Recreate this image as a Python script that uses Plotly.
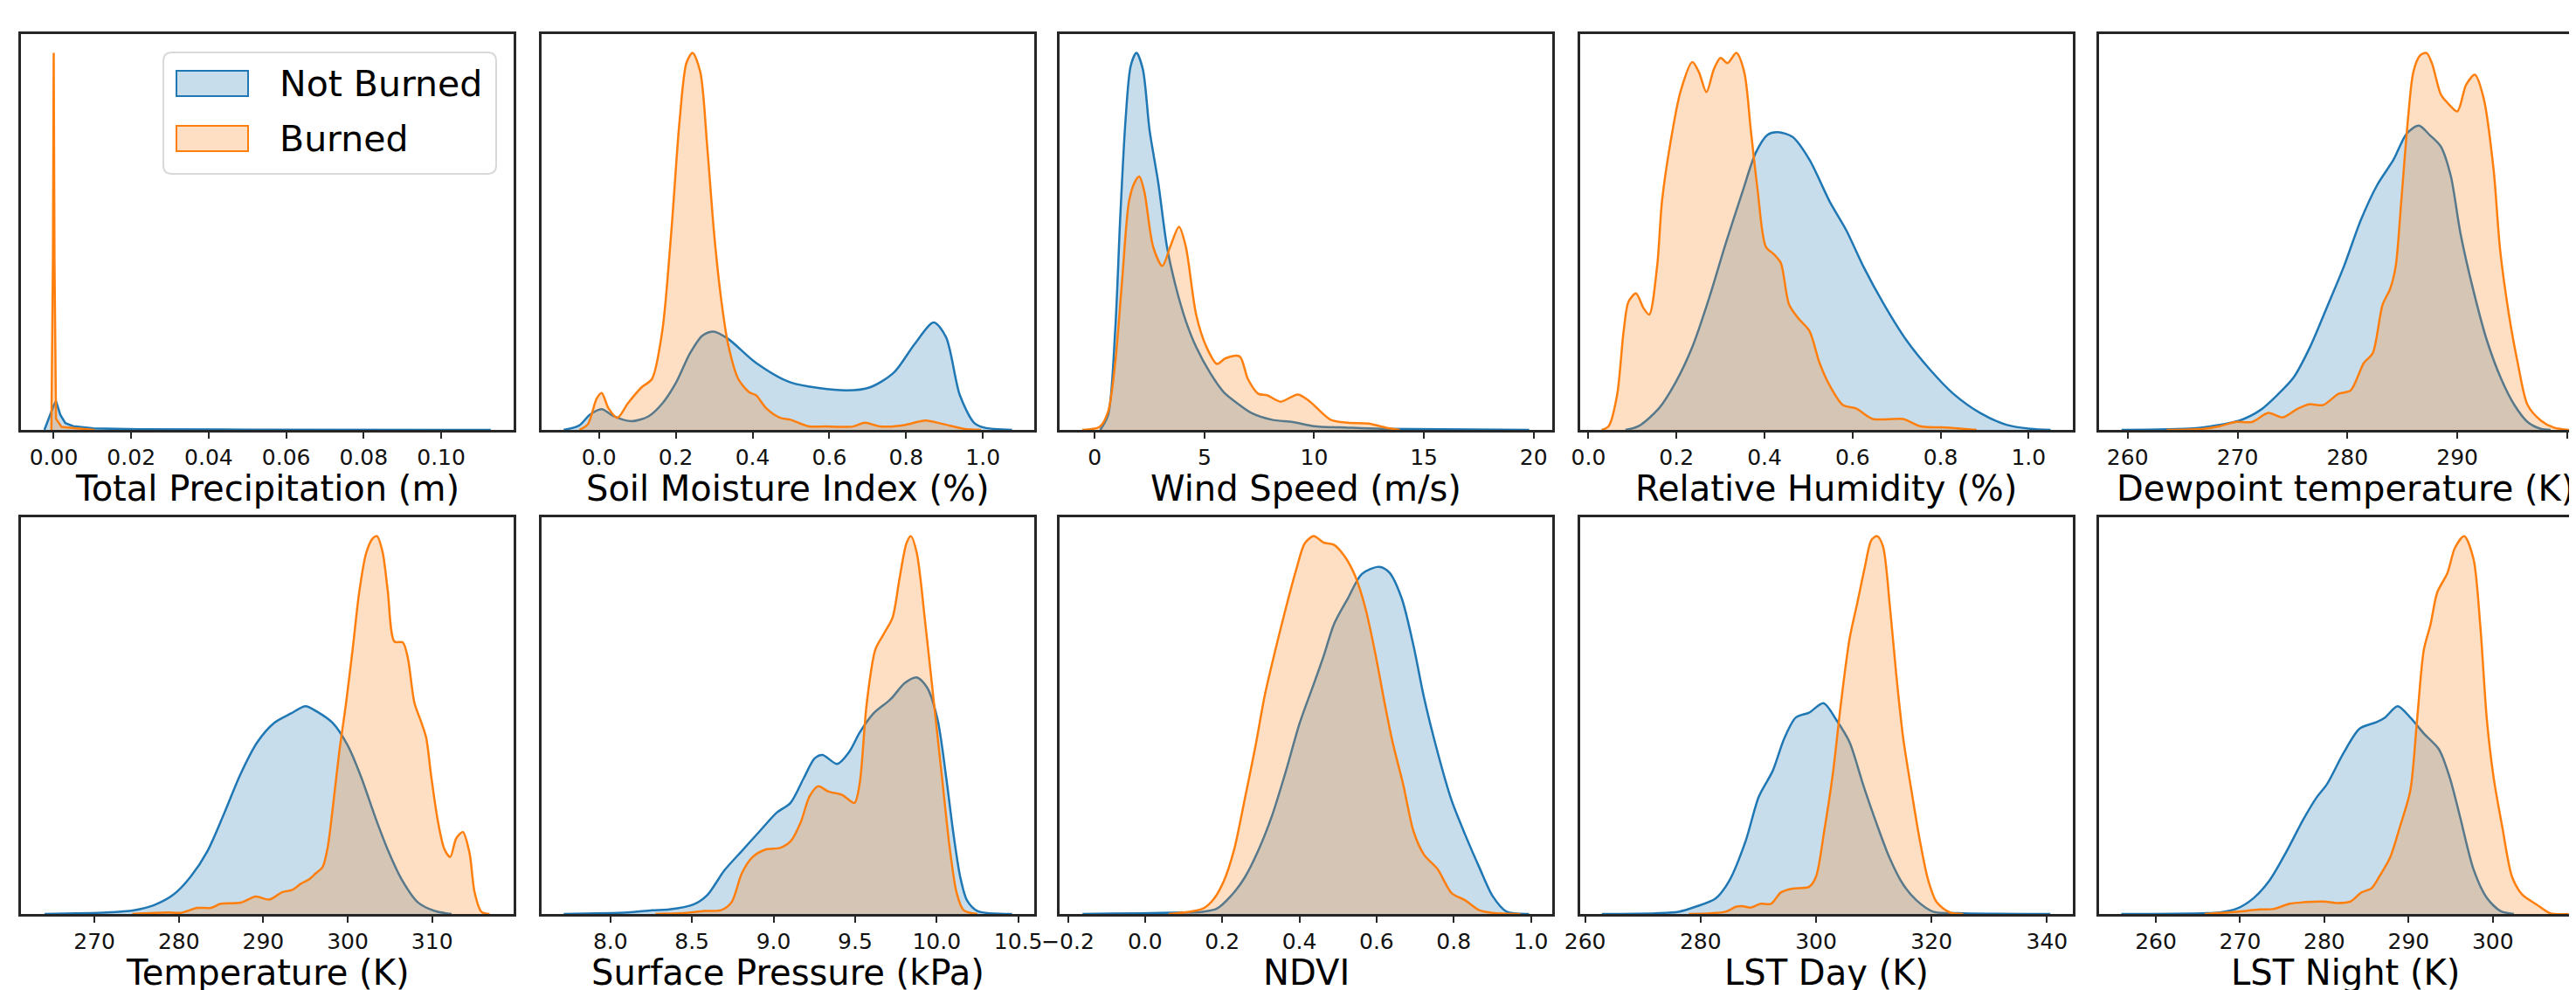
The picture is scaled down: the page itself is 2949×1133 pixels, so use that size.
import plotly.graph_objects as go

W, H = 2949, 1133

# ---------------- data (relative density) ----------------
precip_nb_x = [-0.0024, -0.0013, 0.0, 0.0006, 0.0017, 0.003, 0.005, 0.0103, 0.022, 0.05, 0.08, 0.1128]
precip_nb_y = [0, 0.03, 0.065, 0.076, 0.04, 0.018, 0.01, 0.004, 0.0015, 0.0008, 0.0005, 0]
precip_b_x = [-0.0006, -0.0002, 0.0, 0.0002, 0.0006, 0.002, 0.006, 0.0105]
precip_b_y = [0, 0.45, 1.0, 0.45, 0.03, 0.008, 0.004, 0]

soil_nb_x = [-0.092, -0.051, -0.024, 0.007, 0.039, 0.084, 0.129, 0.165, 0.201, 0.237, 0.269, 0.298, 0.336,
             0.409, 0.499, 0.643, 0.706, 0.768, 0.823, 0.872, 0.904, 0.940, 0.977, 1.004, 1.076]
soil_nb_y = [0, 0.012, 0.040, 0.055, 0.036, 0.023, 0.036, 0.070, 0.126, 0.203, 0.250, 0.261, 0.242,
             0.178, 0.126, 0.105, 0.113, 0.152, 0.229, 0.285, 0.246, 0.092, 0.019, 0.006, 0]
soil_b_x = [-0.051, -0.029, -0.006, 0.007, 0.025, 0.048, 0.075, 0.111, 0.138, 0.165, 0.188, 0.210, 0.228,
            0.244, 0.264, 0.282, 0.300, 0.318, 0.336, 0.363, 0.391, 0.409, 0.436, 0.472, 0.499, 0.544,
            0.589, 0.661, 0.693, 0.733, 0.796, 0.850, 0.895, 0.950, 0.995]
soil_b_y = [0, 0.015, 0.083, 0.098, 0.057, 0.032, 0.070, 0.113, 0.135, 0.263, 0.520, 0.820, 0.974,
            1.0, 0.949, 0.751, 0.520, 0.349, 0.229, 0.135, 0.100, 0.092, 0.057, 0.032, 0.027, 0.010,
            0.009, 0.009, 0.019, 0.009, 0.013, 0.025, 0.016, 0.003, 0]

wind_nb_x = [0.25, 0.61, 0.93, 1.16, 1.40, 1.64, 1.90, 2.19, 2.50, 2.89, 3.29, 3.68, 4.15, 4.62, 5.25,
             5.88, 6.51, 7.14, 8.08, 9.03, 9.97, 11.54, 13.1, 19.8]
wind_nb_y = [0, 0.040, 0.263, 0.563, 0.820, 0.966, 1.0, 0.957, 0.794, 0.657, 0.486, 0.383, 0.289, 0.220,
             0.152, 0.100, 0.070, 0.045, 0.027, 0.021, 0.010, 0.006, 0.003, 0]
wind_b_x = [-0.57, 0.22, 0.61, 0.93, 1.24, 1.56, 1.82, 2.03, 2.26, 2.66, 3.08, 3.44, 3.84, 4.15, 4.62,
            5.09, 5.57, 5.96, 6.60, 6.98, 7.45, 7.85, 8.47, 9.26, 9.81, 10.75, 11.54, 12.48, 13.27, 13.9]
wind_b_y = [0, 0.008, 0.049, 0.177, 0.392, 0.606, 0.657, 0.672, 0.632, 0.486, 0.435, 0.486, 0.539, 0.486,
            0.306, 0.220, 0.175, 0.190, 0.195, 0.135, 0.096, 0.092, 0.075, 0.094, 0.075, 0.027, 0.019,
            0.017, 0.006, 0]

rh_nb_x = [0.084, 0.114, 0.160, 0.198, 0.236, 0.274, 0.312, 0.350, 0.380, 0.407, 0.430, 0.464, 0.502,
           0.548, 0.586, 0.624, 0.670, 0.723, 0.776, 0.829, 0.890, 0.951, 1.004, 1.05]
rh_nb_y = [0, 0.010, 0.057, 0.126, 0.220, 0.349, 0.495, 0.632, 0.735, 0.783, 0.790, 0.777, 0.717,
           0.606, 0.529, 0.435, 0.336, 0.237, 0.160, 0.096, 0.045, 0.013, 0.003, 0]
rh_b_x = [0.030, 0.046, 0.065, 0.080, 0.091, 0.108, 0.125, 0.138, 0.156, 0.167, 0.186, 0.209, 0.236,
          0.251, 0.268, 0.285, 0.300, 0.316, 0.336, 0.354, 0.369, 0.384, 0.403, 0.422, 0.437, 0.456,
          0.479, 0.502, 0.525, 0.548, 0.578, 0.608, 0.646, 0.715, 0.753, 0.821, 0.882]
rh_b_y = [0, 0.010, 0.092, 0.263, 0.340, 0.362, 0.323, 0.306, 0.434, 0.606, 0.760, 0.897, 0.976,
          0.949, 0.896, 0.957, 0.987, 0.973, 1.0, 0.949, 0.794, 0.640, 0.486, 0.465, 0.443, 0.332,
          0.293, 0.263, 0.178, 0.118, 0.066, 0.057, 0.029, 0.029, 0.010, 0.006, 0]

dew_nb_x = [259.45, 266.0, 268.1, 270.2, 272.1, 273.6, 275.1, 276.6, 278.1, 279.7, 281.2, 282.7, 284.2,
            285.4, 286.5, 287.5, 288.5, 289.4, 290.3, 291.5, 292.7, 294.0, 295.2, 296.4, 297.6, 298.5]
dew_nb_y = [0, 0.004, 0.012, 0.025, 0.053, 0.092, 0.139, 0.220, 0.323, 0.435, 0.555, 0.649, 0.717,
            0.786, 0.807, 0.782, 0.752, 0.675, 0.520, 0.366, 0.237, 0.135, 0.066, 0.021, 0.003, 0]
dew_b_x = [263.56, 266.9, 268.4, 269.8, 271.3, 272.8, 274.1, 275.4, 276.5, 277.8, 279.2, 280.3, 281.5,
           282.3, 283.2, 283.9, 284.4, 284.9, 285.5, 286.0, 286.6, 287.2, 287.7, 288.5, 289.1, 290.0,
           290.8, 291.6, 292.4, 293.3, 293.9, 294.7, 295.5, 296.4, 297.6, 298.8, 300.2]
dew_b_y = [0, 0.003, 0.010, 0.021, 0.021, 0.045, 0.033, 0.055, 0.068, 0.066, 0.096, 0.105, 0.178,
           0.203, 0.332, 0.375, 0.435, 0.606, 0.820, 0.949, 0.993, 1.0, 0.972, 0.890, 0.868, 0.845,
           0.915, 0.942, 0.880, 0.692, 0.477, 0.306, 0.178, 0.066, 0.025, 0.006, 0]

temp_nb_x = [264.1, 271.5, 274.7, 277.0, 279.4, 281.4, 283.4, 285.4, 287.3, 289.3, 291.3, 293.3, 295.0,
             296.4, 298.2, 300.0, 301.6, 303.2, 304.8, 306.4, 308.3, 310.3, 312.3]
temp_nb_y = [0, 0.004, 0.010, 0.023, 0.052, 0.099, 0.167, 0.268, 0.370, 0.455, 0.506, 0.531, 0.550,
             0.535, 0.506, 0.446, 0.362, 0.260, 0.167, 0.091, 0.031, 0.008, 0]
temp_b_x = [274.47, 278.63, 280.21, 282.19, 283.77, 284.96, 287.33, 289.11, 290.69, 292.27, 293.46,
            294.45, 295.44, 296.23, 297.02, 297.62, 298.21, 299.0, 299.79, 300.58, 301.37, 302.17,
            302.96, 303.47, 304.14, 304.74, 305.53, 306.52, 307.11, 307.90, 308.69, 309.29, 309.88,
            310.67, 311.46, 312.14, 312.85, 313.64, 314.43, 315.02, 315.82, 316.80]
temp_b_y = [0, 0.004, 0.003, 0.016, 0.016, 0.027, 0.030, 0.046, 0.038, 0.058, 0.064, 0.080, 0.092,
            0.108, 0.124, 0.175, 0.277, 0.429, 0.556, 0.700, 0.853, 0.954, 0.994, 1.0, 0.957, 0.856,
            0.721, 0.719, 0.679, 0.559, 0.509, 0.467, 0.366, 0.247, 0.171, 0.151, 0.200, 0.217,
            0.161, 0.058, 0.006, 0]

press_nb_x = [7.714, 8.106, 8.255, 8.361, 8.509, 8.594, 8.700, 8.806, 8.913, 9.019, 9.104, 9.188,
              9.252, 9.301, 9.390, 9.464, 9.528, 9.613, 9.719, 9.804, 9.878, 9.942, 10.006, 10.059,
              10.101, 10.144, 10.186, 10.250, 10.462]
press_nb_y = [0, 0.004, 0.010, 0.012, 0.025, 0.050, 0.116, 0.167, 0.218, 0.268, 0.294, 0.362,
              0.412, 0.421, 0.397, 0.429, 0.480, 0.531, 0.569, 0.611, 0.626, 0.599, 0.514, 0.360,
              0.218, 0.099, 0.036, 0.008, 0]
press_b_x = [8.276, 8.467, 8.573, 8.679, 8.743, 8.806, 8.870, 8.955, 9.040, 9.104, 9.167, 9.220,
             9.273, 9.337, 9.422, 9.496, 9.528, 9.571, 9.624, 9.677, 9.730, 9.772, 9.815, 9.842,
             9.878, 9.931, 9.984, 10.037, 10.080, 10.122, 10.165, 10.25]
press_b_y = [0, 0.003, 0.008, 0.010, 0.031, 0.108, 0.150, 0.171, 0.175, 0.192, 0.243, 0.311,
             0.338, 0.324, 0.315, 0.294, 0.345, 0.556, 0.700, 0.742, 0.785, 0.887, 0.981, 1.0,
             0.956, 0.767, 0.556, 0.345, 0.175, 0.057, 0.010, 0]

ndvi_nb_x = [-0.162, -0.011, 0.106, 0.150, 0.186, 0.222, 0.258, 0.293, 0.329, 0.365, 0.401, 0.437,
             0.463, 0.490, 0.526, 0.562, 0.607, 0.633, 0.665, 0.696, 0.723, 0.758, 0.794, 0.830,
             0.866, 0.901, 0.937, 0.995]
ndvi_nb_y = [0, 0.002, 0.004, 0.006, 0.014, 0.047, 0.096, 0.167, 0.260, 0.378, 0.506, 0.608,
             0.683, 0.768, 0.836, 0.900, 0.919, 0.904, 0.836, 0.709, 0.573, 0.429, 0.302, 0.209,
             0.124, 0.047, 0.006, 0]
ndvi_b_x = [0.061, 0.115, 0.150, 0.177, 0.204, 0.231, 0.258, 0.285, 0.311, 0.338, 0.365, 0.392,
            0.414, 0.437, 0.463, 0.490, 0.517, 0.544, 0.571, 0.598, 0.620, 0.642, 0.669, 0.696,
            0.723, 0.758, 0.794, 0.830, 0.866, 0.901, 0.973]
ndvi_b_y = [0, 0.006, 0.014, 0.038, 0.087, 0.171, 0.302, 0.438, 0.582, 0.700, 0.810, 0.912,
            0.981, 1.0, 0.983, 0.977, 0.947, 0.896, 0.810, 0.683, 0.563, 0.453, 0.343, 0.218,
            0.157, 0.119, 0.056, 0.036, 0.010, 0.003, 0]

lstd_nb_x = [262.9, 272.2, 276.2, 279.1, 282.6, 285.0, 287.8, 290.1, 292.5, 294.5, 296.5, 298.8,
             301.3, 303.5, 305.8, 308.1, 310.4, 312.7, 315.1, 317.4, 320.3, 325.5, 340.6]
lstd_nb_y = [0, 0.002, 0.006, 0.019, 0.041, 0.089, 0.193, 0.311, 0.379, 0.465, 0.520, 0.533,
             0.558, 0.514, 0.455, 0.345, 0.243, 0.150, 0.078, 0.036, 0.006, 0.002, 0]
lstd_b_x = [277.97, 284.3, 286.1, 287.2, 288.7, 290.4, 292.2, 293.9, 295.9, 298.8, 300.0, 301.4,
            302.9, 304.3, 305.8, 307.2, 308.4, 309.6, 310.6, 311.6, 312.8, 313.9, 315.1, 316.5,
            318.0, 319.4, 320.9, 323.2, 325.5]
lstd_b_y = [0, 0.006, 0.019, 0.021, 0.017, 0.027, 0.027, 0.057, 0.067, 0.072, 0.099, 0.218,
            0.370, 0.556, 0.728, 0.827, 0.914, 0.990, 1.0, 0.973, 0.813, 0.633, 0.465, 0.329,
            0.193, 0.091, 0.031, 0.004, 0]

lstn_nb_x = [255.9, 265.6, 267.6, 269.6, 271.6, 273.5, 275.5, 277.5, 279.1, 280.3, 282.3, 284.2,
             286.2, 287.2, 288.7, 290.2, 291.8, 293.6, 294.9, 296.1, 297.7, 299.3, 300.9, 302.5]
lstn_nb_y = [0, 0.002, 0.004, 0.014, 0.042, 0.089, 0.165, 0.250, 0.309, 0.343, 0.427, 0.491,
             0.508, 0.520, 0.550, 0.520, 0.478, 0.436, 0.360, 0.258, 0.119, 0.042, 0.008, 0]
lstn_b_x = [265.8, 269.6, 272.4, 273.9, 275.9, 277.5, 279.9, 281.5, 283.1, 284.4, 285.6, 286.6,
            287.8, 289.0, 290.2, 291.0, 291.8, 292.6, 293.4, 294.6, 295.5, 296.6, 297.7, 298.5,
            299.3, 300.1, 301.1, 302.3, 303.5, 305.2, 306.8, 309.0]
lstn_b_y = [0, 0.006, 0.012, 0.013, 0.027, 0.031, 0.033, 0.029, 0.033, 0.057, 0.068, 0.102,
            0.149, 0.233, 0.326, 0.512, 0.698, 0.766, 0.851, 0.902, 0.969, 1.0, 0.940, 0.766,
            0.512, 0.360, 0.233, 0.097, 0.051, 0.025, 0.002, 0]

titles = ["Total Precipitation (m)", "Soil Moisture Index (%)", "Wind Speed (m/s)",
          "Relative Humidity (%)", "Dewpoint temperature (K)", "Temperature (K)",
          "Surface Pressure (kPa)", "NDVI", "LST Day (K)", "LST Night (K)"]
tickvals = [[0.0, 0.02, 0.04, 0.06, 0.08, 0.10], [0.0, 0.2, 0.4, 0.6, 0.8, 1.0], [0, 5, 10, 15, 20],
            [0.0, 0.2, 0.4, 0.6, 0.8, 1.0], [260, 270, 280, 290, 300], [270, 280, 290, 300, 310],
            [8.0, 8.5, 9.0, 9.5, 10.0, 10.5], [-0.2, 0.0, 0.2, 0.4, 0.6, 0.8, 1.0],
            [260, 280, 300, 320, 340], [260, 270, 280, 290, 300, 310]]
tickformats = [".2f", ".1f", "d", ".1f", "d", "d", ".1f", ".1f", "d", "d"]
xranges = [[-0.00845, 0.1187], [-0.1506, 1.1326], [-1.604, 20.85], [-0.0198, 1.0996],
           [257.40, 301.44], [261.30, 319.65], [7.5756, 10.5955], [-0.2215, 1.0553],
           [259.07, 344.41], [253.26, 310.70]]

series = [
    (precip_nb_x, precip_nb_y, precip_b_x, precip_b_y),
    (soil_nb_x, soil_nb_y, soil_b_x, soil_b_y),
    (wind_nb_x, wind_nb_y, wind_b_x, wind_b_y),
    (rh_nb_x, rh_nb_y, rh_b_x, rh_b_y),
    (dew_nb_x, dew_nb_y, dew_b_x, dew_b_y),
    (temp_nb_x, temp_nb_y, temp_b_x, temp_b_y),
    (press_nb_x, press_nb_y, press_b_x, press_b_y),
    (ndvi_nb_x, ndvi_nb_y, ndvi_b_x, ndvi_b_y),
    (lstd_nb_x, lstd_nb_y, lstd_b_x, lstd_b_y),
    (lstn_nb_x, lstn_nb_y, lstn_b_x, lstn_b_y),
]

# ---------------- style ----------------
BLUE, ORANGE = "#1f77b4", "#ff7f0e"
BLUE_F, ORANGE_F = "rgba(31,119,180,0.25)", "rgba(255,127,14,0.25)"
FONT = "DejaVu Sans"
SPINE = "#262626"

lefts = [16, 611.5, 1205, 1800.5, 2395]
panel_w = 564
rows = [(31, 484), (584, 1038)]


def px(x):
    return x / W


def py(y):
    return 1 - y / H


fig = go.Figure()
layout = dict(width=W, height=H, margin=dict(l=0, r=0, t=0, b=0),
              paper_bgcolor="white", plot_bgcolor="white", showlegend=False,
              font=dict(family=FONT, color="black"))

for k in range(10):
    r, c = divmod(k, 5)
    n = k + 1
    xa = "x" if n == 1 else f"x{n}"
    ya = "y" if n == 1 else f"y{n}"
    nbx, nby, bx, by = series[k]
    shape = "linear" if k == 0 else "spline"
    fig.add_trace(go.Scatter(x=nbx, y=nby, xaxis=xa, yaxis=ya, name="Not Burned",
                             mode="lines", line=dict(color=BLUE, width=2.5, shape=shape, smoothing=0.8),
                             fill="tozeroy", fillcolor=BLUE_F, showlegend=False, hoverinfo="skip"))
    fig.add_trace(go.Scatter(x=bx, y=by, xaxis=xa, yaxis=ya, name="Burned",
                             mode="lines", line=dict(color=ORANGE, width=2.5, shape=shape, smoothing=0.8),
                             fill="tozeroy", fillcolor=ORANGE_F, showlegend=False, hoverinfo="skip"))
    x0 = lefts[c]
    x1 = min(x0 + panel_w, W)
    top, bot = rows[r]
    cut = (x1 < x0 + panel_w)
    layout[f"xaxis{'' if n == 1 else n}"] = dict(
        domain=[x0 / W, x1 / W], anchor=ya, range=xranges[k], fixedrange=True,
        showgrid=False, zeroline=False, showline=True, linecolor=SPINE, linewidth=2.5, mirror=True,
        ticks="outside", ticklen=7, tickwidth=2, tickcolor=SPINE,
        tickvals=tickvals[k], tickformat=tickformats[k], ticklabelstandoff=0,
        tickfont=dict(family=FONT, size=25, color="#111"), automargin=False,
    )
    layout[f"yaxis{'' if n == 1 else n}"] = dict(
        domain=[1 - bot / H, 1 - top / H], anchor=xa, range=[0, 1.05], fixedrange=True,
        showgrid=False, zeroline=False, showline=True, linecolor=SPINE, linewidth=2.5,
        mirror=(not cut), showticklabels=False, ticks="", automargin=False,
    )
    # axis title, centred under the full panel width
    fig.add_annotation(xref="paper", yref="paper", x=px(x0 + panel_w / 2), y=py(bot + 67),
                       xanchor="center", yanchor="middle", text=titles[k], showarrow=False,
                       font=dict(family=FONT, size=40, color="black"))

fig.update_layout(**layout)

# ---------------- legend (drawn in panel 1) ----------------
lx0, lx1, ly0, ly1, rad = 179, 560, 52, 191, 10
pts = [
    f"M {px(lx0 + rad)},{py(ly0)}", f"L {px(lx1 - rad)},{py(ly0)}",
    f"Q {px(lx1)},{py(ly0)} {px(lx1)},{py(ly0 + rad)}", f"L {px(lx1)},{py(ly1 - rad)}",
    f"Q {px(lx1)},{py(ly1)} {px(lx1 - rad)},{py(ly1)}", f"L {px(lx0 + rad)},{py(ly1)}",
    f"Q {px(lx0)},{py(ly1)} {px(lx0)},{py(ly1 - rad)}", f"L {px(lx0)},{py(ly0 + rad)}",
    f"Q {px(lx0)},{py(ly0)} {px(lx0 + rad)},{py(ly0)}", "Z",
]
fig.add_shape(type="path", xref="paper", yref="paper", path=" ".join(pts),
              fillcolor="rgba(255,255,255,0.8)", line=dict(color="#d9d9d9", width=2), layer="above")

legend_items = [("Not Burned", BLUE, BLUE_F, 73, 102), ("Burned", ORANGE, ORANGE_F, 136, 165)]
for label, lc, fc, sy0, sy1 in legend_items:
    fig.add_shape(type="rect", xref="paper", yref="paper", x0=px(194), x1=px(276),
                  y0=py(sy1), y1=py(sy0), fillcolor=fc, line=dict(color=lc, width=2), layer="above")
    fig.add_annotation(xref="paper", yref="paper", x=px(310), y=py((sy0 + sy1) / 2),
                       xanchor="left", yanchor="middle", text=label, showarrow=False,
                       font=dict(family=FONT, size=41, color="black"))

fig.write_html("out.html")
